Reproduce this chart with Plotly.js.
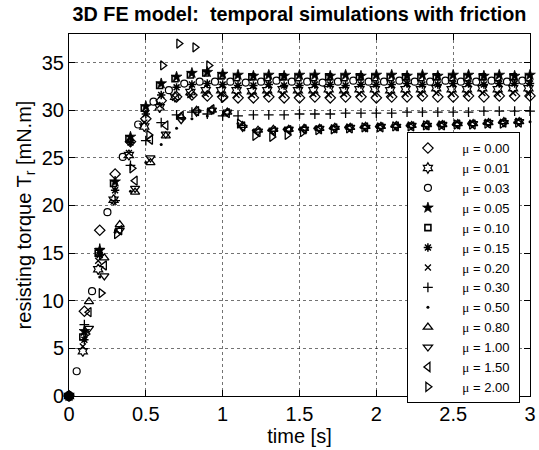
<!DOCTYPE html>
<html><head><meta charset="utf-8">
<script src="https://cdn.plot.ly/plotly-3.0.1.min.js"></script>
<style>html,body{margin:0;padding:0;background:#fff}</style>
</head><body><div id="chart" style="width:539px;height:450px"></div>
<script>
// friction coefficients (legend labels)
const muLabels = ['0.00','0.01','0.03','0.05','0.10','0.15','0.20','0.30','0.50','0.80','1.00','1.50','2.00'];

// time samples [s]
const tA = [0,0.09,0.19,0.29,0.39,0.49,0.59,0.69,0.79,0.89,0.99,1.09,1.19,1.29,1.39,1.49,1.59,1.69,1.79,1.89,1.99,2.09,2.19,2.29,2.39,2.49,2.59,2.69,2.79,2.89,2.99];
const tB = [0,0.1,0.2,0.3,0.4,0.5,0.6,0.7,0.8,0.9,1.0,1.1,1.2,1.3,1.4,1.5,1.6,1.7,1.8,1.9,2.0,2.1,2.2,2.3,2.4,2.5,2.6,2.7,2.8,2.9,3.0];
const tC = [0,0.05,0.15,0.25,0.35,0.45,0.55,0.65,0.75,0.85,0.95,1.05,1.15,1.25,1.35,1.45,1.55,1.65,1.75,1.85,1.95,2.05,2.15,2.25,2.35,2.45,2.55,2.65,2.75,2.85,2.95];
const tL = [0,0.13,0.23,0.33,0.43,0.53,0.63,0.73,0.83,0.93,1.03,1.13,1.23,1.33,1.43,1.53,1.63,1.73,1.83,1.93,2.03,2.13,2.23,2.33,2.43,2.53,2.63,2.73,2.83,2.93];
const tR = [0,0.11,0.21,0.31,0.41,0.52,0.61,0.715,0.82,0.91,1.005,1.11,1.21,1.32,1.42,1.52,1.62,1.72,1.82,1.92,2.02,2.12,2.22,2.32,2.42,2.52,2.62,2.72,2.82,2.92];

// resisting torque Tr [mN.m]
const mu000 = [0,8.9,17.4,23.3,26.7,29.1,31.0,31.4,31.6,31.5,31.4,31.3,31.3,31.4,31.3,31.3,31.4,31.3,31.4,31.4,31.3,31.4,31.4,31.5,31.4,31.4,31.5,31.4,31.5,31.5,31.5];
const mu001 = [0,4.7,13.3,20.6,25.3,28.3,30.3,31.4,31.9,32.1,32.1,32.1,32.0,32.1,32.2,32.1,32.1,32.2,32.1,32.2,32.2,32.1,32.2,32.2,32.3,32.2,32.2,32.3,32.2,32.3,32.3];
const mu003 = [0,2.6,11.0,19.3,25.1,28.5,30.9,32.1,32.8,33.0,33.0,33.0,32.9,33.0,33.1,33.0,33.0,32.9,33.0,33.1,33.0,33.0,33.1,33.0,33.0,33.1,33.0,33.0,33.1,33.0,33.1];
const mu005 = [0,6.8,15.3,22.5,27.2,30.4,32.8,33.5,33.9,34.0,33.8,33.7,33.6,33.7,33.6,33.7,33.7,33.6,33.7,33.6,33.7,33.7,33.6,33.7,33.6,33.7,33.7,33.6,33.7,33.6,33.7];
const mu010 = [0,6.2,15.0,22.3,27.0,30.2,32.6,33.3,33.7,33.9,33.6,33.4,33.5,33.4,33.5,33.4,33.4,33.5,33.4,33.5,33.4,33.4,33.5,33.4,33.5,33.4,33.4,33.5,33.4,33.5,33.4];
const mu015 = [0,5.9,14.8,21.6,26.6,29.6,31.6,32.4,32.7,32.8,32.7,32.6,32.6,32.7,32.6,32.6,32.7,32.7,32.6,32.7,32.7,32.7,32.8,32.7,32.7,32.8,32.8,32.7,32.8,32.8,32.8];
const mu020 = [0,5.2,14.2,20.4,25.5,28.7,30.5,31.3,31.6,31.7,31.7,31.6,31.6,31.7,31.6,31.7,31.7,31.6,31.7,31.7,31.7,31.6,31.7,31.7,31.8,31.7,31.7,31.8,31.7,31.8,31.7];
const mu030 = [0,7.5,15.5,20.5,24.2,26.8,28.7,29.5,29.8,29.6,29.4,29.4,29.5,29.5,29.5,29.6,29.6,29.6,29.7,29.7,29.7,29.7,29.8,29.8,29.8,29.8,29.8,29.9,29.9,29.9,29.9];
const mu050 = [0,6.0,12.5,17.2,21.5,24.5,26.4,28.1,29.1,29.4,29.5,28.6,27.9,27.9,28.0,28.0,28.1,28.1,28.2,28.2,28.3,28.3,28.4,28.4,28.5,28.5,28.6,28.6,28.7,28.7,28.8];
const mu080 = [0,9.9,14.5,18.0,21.4,24.5,27.3,29.3,30.0,30.0,29.8,28.4,27.9,28.0,28.0,28.1,28.1,28.2,28.2,28.3,28.3,28.4,28.4,28.5,28.5,28.6,28.6,28.7,28.8,28.8];
const mu100 = [0,7.1,12.6,17.4,21.8,25.0,27.5,29.0,29.8,30.0,29.8,28.2,27.8,27.9,28.0,28.0,28.1,28.1,28.2,28.2,28.3,28.3,28.4,28.4,28.5,28.5,28.6,28.7,28.7,28.8];
const mu150 = [0,8.8,13.7,17.4,22.6,26.9,28.4,29.4,29.9,30.1,29.7,28.3,27.7,27.8,27.9,28.0,28.0,28.1,28.1,28.2,28.2,28.3,28.3,28.4,28.4,28.5,28.5,28.6,28.7,28.7];
const mu200 = [0,6.5,10.8,17.0,23.9,27.4,34.7,37.0,36.6,34.7,31.3,28.6,27.3,27.2,27.4,27.7,27.9,28.0,28.1,28.2,28.2,28.3,28.3,28.4,28.4,28.5,28.5,28.6,28.6,28.7];

const seriesX = [tB, tA, tC, tB, tA, tB, tA, tB, tB, tL, tL, tL, tR];
const seriesY = [mu000, mu001, mu003, mu005, mu010, mu015, mu020, mu030, mu050, mu080, mu100, mu150, mu200];

// marker styles
const styles = [
  {symbol:'diamond-open', size:8, lw:1.2},
  {symbol:'hexagram-open', size:8, lw:1.2},
  {symbol:'circle-open', size:7, lw:1.2},
  {symbol:'star', size:8, lw:0.8},
  {symbol:'square-open', size:6, lw:1.6},
  {symbol:'asterisk-open', size:7, lw:1.5},
  {symbol:'x-thin-open', size:6, lw:1.3},
  {symbol:'cross-thin-open', size:7, lw:1.3},
  {symbol:'circle', size:3, lw:0},
  {symbol:'triangle-up-open', size:8, lw:1.3},
  {symbol:'triangle-down-open', size:8, lw:1.3},
  {symbol:'triangle-left-open', size:8, lw:1.3},
  {symbol:'triangle-right-open', size:8, lw:1.3}
];

const traces = muLabels.map((m, i) => ({
  type: 'scatter', mode: 'markers',
  x: seriesX[i], y: seriesY[i],
  name: '\u00a0\u00a0\u00a0\u00a0<span style="font-family:\'Liberation Serif\'">μ</span> = ' + m + '\u00a0',
  cliponaxis: false,
  marker: {symbol: styles[i].symbol, size: styles[i].size, color: '#000',
           line: {color: '#000', width: styles[i].lw}}
}));

const axisFont = {family: 'Liberation Sans, Arial, sans-serif', size: 20, color: '#000'};

const layout = {
  width: 539, height: 450,
  margin: {l: 69, r: 9, t: 34, b: 54},
  paper_bgcolor: '#fff', plot_bgcolor: '#fff',
  font: axisFont,
  title: {text: '<b>3D FE model:\u00a0\u00a0temporal simulations with friction</b>',
          font: {family: 'Liberation Sans, Arial, sans-serif', size: 19.8, color: '#000'},
          xref: 'paper', x: 0.5, xanchor: 'center', yref: 'container', y: 0.968, yanchor: 'middle'},
  xaxis: {range: [0, 3], tickvals: [0,0.5,1,1.5,2,2.5,3], ticktext: ['0','0.5','1','1.5','2','2.5','3'],
          ticks: 'inside', ticklen: 6, tickcolor: '#000', mirror: 'allticks',
          showline: true, linecolor: '#000', linewidth: 1,
          showgrid: true, gridcolor: 'rgba(0,0,0,0.55)', griddash: 'dot', gridwidth: 1,
          zeroline: false, tickfont: axisFont,
          title: {text: 'time [s]', font: axisFont, standoff: 2}},
  yaxis: {range: [0, 38], tickvals: [0,5,10,15,20,25,30,35], ticktext: ['0','5','10','15','20','25','30','35'],
          ticks: 'inside', ticklen: 6, tickcolor: '#000', mirror: 'allticks',
          showline: true, linecolor: '#000', linewidth: 1,
          showgrid: true, gridcolor: 'rgba(0,0,0,0.55)', griddash: 'dot', gridwidth: 1,
          zeroline: false, tickfont: axisFont,
          title: {text: 'resisting torque T<sub>r</sub> [mN.m]', font: axisFont, standoff: 4}},
  legend: {x: 0.733, y: 0.729, xanchor: 'left', yanchor: 'top',
           bgcolor: '#fff', bordercolor: '#000', borderwidth: 1,
           font: {family: 'Liberation Sans, Arial, sans-serif', size: 13, color: '#000'},
           tracegroupgap: 0},
  showlegend: true
};

Plotly.newPlot('chart', traces, layout, {displayModeBar: false, staticPlot: true});
</script>
</body></html>
